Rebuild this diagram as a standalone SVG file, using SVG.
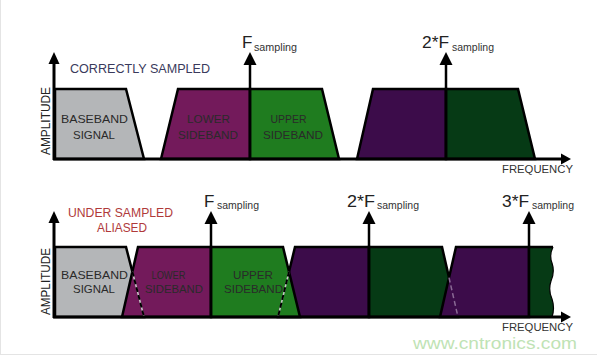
<svg xmlns="http://www.w3.org/2000/svg" width="597" height="356" viewBox="0 0 597 356">
<style>
.band{stroke:#000;stroke-width:2.5;stroke-linejoin:miter}
.gray{fill:#b4b6b8}
.purp{fill:#731a5b}
.green{fill:#1f7c1f}
.dpurp{fill:#3c0c4a}
.dgreen{fill:#063a15}
.axis{stroke:#000;stroke-width:3;fill:none}
.vl{stroke:#000;stroke-width:2.5;fill:none}
.head{fill:#000}
.dash{stroke:#000;stroke-width:2;stroke-dasharray:5 3;fill:none}
.dashbg{stroke:#c8c8c8;stroke-width:1.5;fill:none}
text{font-family:"Liberation Sans",Arial,sans-serif}
.lbl{font-size:11px;fill:#2a2a2a;text-anchor:middle}
.amp{font-size:12.5px;fill:#222}
.freq{font-size:11.5px;fill:#333}
.big{font-size:17px;fill:#222}
.sub{font-size:10px;fill:#333}
.title1{font-size:12px;fill:#3a3a5c}
.title2{font-size:12px;fill:#b03a3a}
.wm{font-size:16.5px;fill:#bfe3b5}
</style>
<rect x="0" y="0" width="597" height="356" fill="#ffffff"/>
<line x1="0.5" y1="0" x2="0.5" y2="354" stroke="#e4e4e4" stroke-width="1"/>
<line x1="0" y1="354.5" x2="597" y2="354.5" stroke="#e4e4e4" stroke-width="1"/>

<!-- TOP PANEL -->
<g id="top-bands">
  <g id="top-baseband"><polygon class="band gray" points="55,89 126,89 144,159 55,159"/>
    <text class="lbl" x="94.5" y="123" textLength="67" lengthAdjust="spacingAndGlyphs">BASEBAND</text>
    <text class="lbl" x="94" y="139" textLength="42" lengthAdjust="spacingAndGlyphs">SIGNAL</text></g>
  <g id="top-lower"><polygon class="band purp" points="161,159 178,89 250,89 250,159"/>
    <text class="lbl" x="208.5" y="123" textLength="43" lengthAdjust="spacingAndGlyphs">LOWER</text>
    <text class="lbl" x="208" y="139" textLength="60" lengthAdjust="spacingAndGlyphs">SIDEBAND</text></g>
  <g id="top-upper"><polygon class="band green" points="250,89 322,89 339,159 250,159"/>
    <text class="lbl" x="288.5" y="123" textLength="36" lengthAdjust="spacingAndGlyphs">UPPER</text>
    <text class="lbl" x="293" y="139" textLength="60" lengthAdjust="spacingAndGlyphs">SIDEBAND</text></g>
  <g id="top-lower2"><polygon class="band dpurp" points="357,159 373,89 446,89 446,159"/></g>
  <g id="top-upper2"><polygon class="band dgreen" points="446,89 518,89 535,159 446,159"/></g>
</g>
<g id="top-connectors">
  <line class="axis" x1="54" y1="160" x2="54" y2="61"/>
  <polygon class="head" points="54,52 59.5,64 48.5,64"/>
  <line class="axis" x1="53" y1="159" x2="562" y2="159"/>
  <polygon class="head" points="571,159 561,153.5 561,164.5"/>
  <line class="vl" x1="250" y1="159" x2="250" y2="62"/>
  <polygon class="head" points="250,52 256.5,65 243.5,65"/>
  <line class="vl" x1="446" y1="159" x2="446" y2="62"/>
  <polygon class="head" points="446,52 452.5,65 439.5,65"/>
</g>
<g id="top-labels">
  <text class="title1" x="70" y="73" textLength="140" lengthAdjust="spacingAndGlyphs">CORRECTLY SAMPLED</text>
  <text class="amp" transform="translate(50,155) rotate(-90)" x="0" y="0" textLength="68" lengthAdjust="spacingAndGlyphs">AMPLITUDE</text>
  <text class="freq" x="502" y="173" textLength="71" lengthAdjust="spacingAndGlyphs">FREQUENCY</text>
  <text class="big" x="242" y="48">F</text>
  <text class="sub" x="254" y="51" textLength="43" lengthAdjust="spacingAndGlyphs">sampling</text>
  <text class="big" x="422" y="48" textLength="27" lengthAdjust="spacingAndGlyphs">2*F</text>
  <text class="sub" x="452" y="51" textLength="42" lengthAdjust="spacingAndGlyphs">sampling</text>
</g>

<!-- BOTTOM PANEL -->
<g id="bottom-bands">
  <g id="b-baseband"><polygon class="band gray" points="55,247 126,247 144,317 55,317"/></g>
  <g id="b-lower"><polygon class="band purp" points="138,247 211,247 211,317 122,317"/>
    <line class="dashbg" x1="132.4" y1="271.7" x2="144" y2="317"/>
    <line class="dash" x1="132.4" y1="271.7" x2="144" y2="317"/></g>
  <g id="b-lower2"><polygon class="band dpurp" points="295,247 369,247 369,317 278,317"/></g>
  <g id="b-upper2"><polygon class="band dgreen" points="369,247 442,247 458,317 369,317"/></g>
  <g id="b-upper"><polygon class="band green" points="211,247 283,247 300,317 211,317"/>
    <line class="dashbg" x1="289" y1="271.7" x2="278" y2="317"/>
    <line class="dash" x1="289" y1="271.7" x2="278" y2="317"/></g>
  <g id="b-lower3"><polygon class="band dpurp" points="456,247 529,247 529,317 440,317"/>
    <line stroke="#8a6a95" stroke-width="1.5" stroke-dasharray="5 3" x1="449" y1="277.6" x2="458" y2="317"/></g>
  <g id="b-upper3"><path class="dgreen" d="M529,247 L553,247 Q549,255 552,263 Q555,272 551,281 Q548,290 552,299 Q555,308 552,317 L529,317 Z"/>
    <path d="M528,247 L553,247" stroke="#000" stroke-width="2.5" fill="none"/>
    <path d="M553,247 Q549,255 552,263 Q555,272 551,281 Q548,290 552,299 Q555,308 552,317" stroke="#000" stroke-width="1.2" fill="none"/></g>
  <g id="b-text">
    <text class="lbl" x="94.5" y="279" textLength="67" lengthAdjust="spacingAndGlyphs">BASEBAND</text>
    <text class="lbl" x="94" y="293" textLength="42" lengthAdjust="spacingAndGlyphs">SIGNAL</text>
    <text class="lbl" x="168.5" y="279" textLength="34" lengthAdjust="spacingAndGlyphs">LOWER</text>
    <text class="lbl" x="174" y="293" textLength="58" lengthAdjust="spacingAndGlyphs">SIDEBAND</text>
    <text class="lbl" x="253" y="279" textLength="40" lengthAdjust="spacingAndGlyphs">UPPER</text>
    <text class="lbl" x="253.5" y="293" textLength="59" lengthAdjust="spacingAndGlyphs">SIDEBAND</text>
  </g>
</g>
<g id="bottom-connectors">
  <line class="axis" x1="54" y1="318" x2="54" y2="220"/>
  <polygon class="head" points="54,211 59.5,223 48.5,223"/>
  <line class="axis" x1="53" y1="317" x2="562" y2="317"/>
  <polygon class="head" points="571,317 561,311.5 561,322.5"/>
  <line class="vl" x1="211" y1="317" x2="211" y2="221"/>
  <polygon class="head" points="211,211 217.5,224 204.5,224"/>
  <line class="vl" x1="369" y1="317" x2="369" y2="221"/>
  <polygon class="head" points="369,211 375.5,224 362.5,224"/>
  <line class="vl" x1="529" y1="317" x2="529" y2="221"/>
  <polygon class="head" points="529,211 535.5,224 522.5,224"/>
</g>
<g id="bottom-labels">
  <text class="title2" x="68" y="217" textLength="105" lengthAdjust="spacingAndGlyphs">UNDER SAMPLED</text>
  <text class="title2" x="97" y="232" textLength="50" lengthAdjust="spacingAndGlyphs">ALIASED</text>
  <text class="amp" transform="translate(50,315) rotate(-90)" x="0" y="0" textLength="67" lengthAdjust="spacingAndGlyphs">AMPLITUDE</text>
  <text class="freq" x="502" y="330.5" textLength="71" lengthAdjust="spacingAndGlyphs">FREQUENCY</text>
  <text class="big" x="204" y="207">F</text>
  <text class="sub" x="217" y="209" textLength="42" lengthAdjust="spacingAndGlyphs">sampling</text>
  <text class="big" x="347" y="207" textLength="28" lengthAdjust="spacingAndGlyphs">2*F</text>
  <text class="sub" x="377" y="209" textLength="42" lengthAdjust="spacingAndGlyphs">sampling</text>
  <text class="big" x="502" y="207" textLength="27" lengthAdjust="spacingAndGlyphs">3*F</text>
  <text class="sub" x="532" y="209" textLength="42" lengthAdjust="spacingAndGlyphs">sampling</text>
  <text class="wm" x="413" y="349" textLength="164" lengthAdjust="spacingAndGlyphs">www.cntronics.com</text>
</g>
</svg>
